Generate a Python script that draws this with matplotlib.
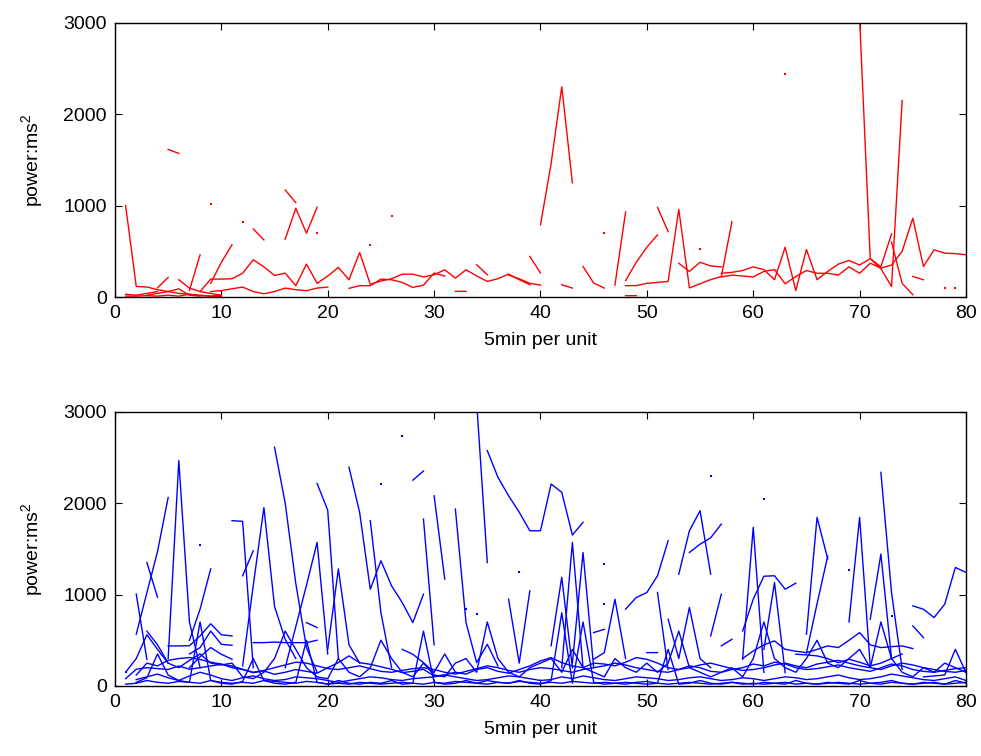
import numpy as np
import matplotlib.pyplot as plt

plt.rcParams['font.family'] = ['Liberation Sans', 'DejaVu Sans']
plt.rcParams['mathtext.default'] = 'regular'

n = np.nan
x = np.arange(1, 81)

# ---- top panel (red), one value per unit, nan = gap ----
red_1 = ([1000, 116, 110, 80, 60, 40, 30, 20, 10, 20] + [n] * 29 + [790]
         + [1460, 2300, 1250] + [n] * 13 + [260, 270, 290, 330]
         + [300, 190, 545, 70, 520, 190, 280, 360, 400, 350]
         + [420, 330, 690] + [n] * 7)
red_2 = ([n] * 7 + [60, 196, 196]
         + [200, 260, 407, 330, 236, 262, 124, 360, 150, 230]
         + [324, 189, 487, 140, 175, 200, 250, 250, 220, 244]
         + [298, 207, 298, 230, 171, 200, 251, 190, 135, n]
         + [n] * 7 + [124, 125, 150]
         + [160, 170, 960, 100, 145, 190, 225, 825, n, n] + [n] * 20)
red_3 = ([n] * 8 + [60, 70]
         + [90, 109, 60, 36, 60, 98, 80, 69, 98, 109]
         + [n, 95, 124, 124, 196, 189, 160, 105, 130, 262]
         + [230, n, n, n, n, n, 240, 200, 150, 130] + [n] * 10
         + [n, n, 370, 280, 380, 340, 330, n, n, n]
         + [n] * 9 + [3050] + [420, 310, 116, 2150] + [n] * 6)
red_4 = ([10, 10, 15, 10, 20, 10, 30, 15, 10, 5]
         + [n, n, 745, 625, n, 633, 971, 698, 982, n] + [n] * 10
         + [n, n, n, 353, 244, n, n, n, n, n]
         + [n, n, n, 334, 153, 98, n, n, n, n]
         + [n] * 6 + [220, 240, 230, 220]
         + [280, 300, 145, 225, 290, 260, 260, 240, 330, 260]
         + [370, 316, 350, 500, 862, 334, 516, 480, 475, 462])
red_5 = ([n, n, 20, 40, 60, 90, 20, 10, n, n]
         + [n] * 5 + [1171, 1033, n, n, n] + [n] * 10
         + [n, 62, 62, n, n, n, n, n, 444, 262]
         + [n, 135, 98, n, n, n, 130, 930, n, n] + [n] * 20
         + [n, n, 600, 150, 25, n, n, n, n, n])
red_6 = ([n, n, n, 100, 215, n, 73, 462, n, n] + [n] * 37 + [180, 380, 545]
         + [680] + [n] * 23 + [225, 189, n, n, n, n])
red_7 = ([n, n, n, n, 1614, 1571, n, n, 150, 380] + [571] + [n] * 36
         + [15, 15, n] + [980, 716] + [n] * 28)
red_8 = [30, 20, 40, 60, n, 189, 98, 60, 40, 20] + [n] * 70
red_dot_x = [9, 12, 19, 24, 26, 46, 55, 63, 78, 79]
red_dot_y = [1018, 825, 698, 571, 887, 698, 527, 2443, 98, 98]

# ---- bottom panel (blue) ----
blue_1 = ([n, 566, 1020, 1470, 2060, n, 500, 840, 1280, n]
          + [1807, 1800, 200, n, 2610, 2000, 1120, 420, 150, n]
          + [n, n, n, 1807, 803, 200, n, 2250, 2350, n]
          + [n, n, n, 3100, 1350, n, 950, 250, 1040, n]
          + [440, 1190, 200, n, 292, 365, 949, 300, n, 365]
          + [365, n, 1223, 1697, 1916, 1223, n, n, 292, 1734]
          + [150, n, n, n, 566, 1843, 1390, n, 700, 1843]
          + [219, n, n, n, 657, 529, n, n, n, n])
blue_2 = ([n, 1004, 290, n, 300, 2464, 700, 200, n, n]
          + [n, 220, 1100, 1950, 870, 510, 300, n, n, 400]
          + [1280, 450, 250, n, n, n, n, n, 1825, 450]
          + [n, 1934, 693, 255, 456, 219, n, n, n, n]
          + [n, 200, 1570, 200, n, n, n, 840, 967, 1022]
          + [1205, 1588, n, 1460, 1550, 1620, 1770, n, 600, 949]
          + [1200, 1205, 1058, 1124, n, n, n, n, n, n]
          + [730, 1442, 300, n, 876, 839, 748, 894, 1296, 1241])
blue_3 = ([n, n, 1350, 970, n, n, 350, 420, 600, 456]
          + [445, n, n, n, n, 200, 650, 1100, 1570, 350]
          + [n, 2391, 1898, 1058, 1369, 1095, 913, 693, 1004, n]
          + [n, n, n, n, 2573, 2281, 2080, 1900, 1697, 1697]
          + [2208, 2117, 1650, 1790, n, n, n, n, n, n]
          + [1022, 180, n, n, n, 547, 1004, n, n, n]
          + [400, 1131, 146, n, 360, 900, 1420, n, n, n]
          + [n, 2336, 1022, 183, n, 100, 110, 120, 401, 146])
blue_4 = ([n, n, n, n, 438, 438, 440, 547, 680, 560]
          + [547, n, 474, 474, 480, 474, 474, 474, 500, n]
          + [n] * 9 + [2080] + [1168] + [n] * 9
          + [n, n, 250, 1460, 200, n, n, n, n, n]
          + [n, 730, 300, 858, 300, 200, n, n, 300, 383]
          + [450, 493, 401, 380, 365, 400, 438, 420, 500, 584]
          + [450, 420, 430, 438, 409, n, n, n, n, n])
blue_5 = ([n] * 6 + [200, 320, 420, 347]
          + [292, n, n, n, n, n, n, 693, 639, n]
          + [n] * 6 + [401, 347, 255, 150] + [n] * 10
          + [n, n, n, n, 584, 620, n, n, n, n]
          + [n] * 6 + [438, 511, n, n]
          + [n, n, n, 347, 340, 329, 300, 255, 292, 260]
          + [220, 250, 300, 350, n, n, n, n, n, n])
blue_6 = ([n, n, 600, 450, 250, n, n, n, n, n]
          + [n, 1205, 1478, n, n, n, n, n, 2214, 1922]
          + [300] + [n] * 8 + [150] + [350, 150] + [n] * 48)
blue_7 = [20, 30, 60, 40, 30, 50, 40, 30, 60, 40, 30, 40, 30, 60, 50, 40,
          30, 50, 40, 20, 30, 20, 40, 30, 20, 30, 40, 30, 20, 40, 30, 50,
          40, 30, 60, 40, 30, 50, 40, 30, 40, 30, 50, 40, 30, 40, 30, 20,
          40, 50, 30, 20, 30, 40, 30, 20, 30, 40, 20, 30, 20, 30, 40, 20,
          30, 20, 30, 40, 30, 20, 30, 20, 40, 30, 20, 30, 40, 20, 30, 40]
blue_8 = [80, 183, 200, 190, 180, 219, 183, 200, 219, 237, 219, 183, 146,
          164, 128, 150, 180, 160, 140, 200, 255, 329, 255, 237, 210, 183,
          146, 160, 183, 110, 120, 150, 130, 180, 200, 160, 140, 180, 220,
          274, 310, 255, 219, 200, 250, 240, 220, 260, 310, 292, 250, 200,
          180, 220, 200, 160, 150, 180, 200, 240, 220, 260, 240, 200, 180,
          190, 210, 230, 200, 180, 160, 200, 240, 220, 180, 160, 150, 170,
          190, 200]
blue_9 = [n, 70, 100, 130, 90, 60, 110, 150, 120, 80, 60, 90, 110, 80, 60,
          70, 100, 90, 80, 60, 40, 60, 80, 100, 90, 70, 60, 80, 90, 100, 120,
          100, 80, 60, 70, 90, 110, 100, 80, 60, 70, 100, 80, 110, 90, 70, 60,
          80, 100, 90, 80, 60, 70, 90, 100, 80, 60, 70, 90, 80, 60, 80, 100,
          90, 70, 80, 100, 120, 90, 70, 80, 100, 130, 110, 90, 70, 60, 80,
          100, 60]
blue_10 = [n, 120, 250, 220, 280, 300, 311, 290, 260, 240, 200, 180, 150,
           170, 200, 230, 260, 250, 220, 190, 180, 200, 220, 190, 160, 150,
           170, 190, 200, 180, 150, 130, 160, 190, 220, 200, 170, 150, 180,
           200, 190, 170, 150, 180, 200, 220, 250, 230, 200, 180, 160, 150,
           180, 200, 230, 250, 220, 190, 170, 180, 200, 230, 250, 220, 200,
           240, 260, 280, 250, 220, 200, 180, 220, 250, 230, 200, 180, 160,
           150, 170]
blue_11 = [150, 300, 560, 400, 250, 200, 280, 350, 250, 230,
           250, 100, 80, 150, 300, 600, 400, 200, 100, 80,
           300, 150, 100, 200, 500, 300, 150, 100, 250, 120,
           100, 250, 300, 150, 700, 300, 150, 100, 200, 250,
           300, 150, 400, 200, 150, 100, 300, 200, 150, 250,
           150, 250, 600, 200, 150, 100, 150, 200, 100, 300,
           700, 300, 200, 150, 300, 500, 250, 200, 300, 400,
           200, 700, 300, 150, 100, 200, 150, 250, 200, 150]
blue_12 = [n, 40, 90, 350, 120, 60, 40, 700, 60, 30,
           20, 50, 300, 60, 30, 20, 40, 500, 40, 20,
           60, 30, 20, 40, 30, 60, 20, 30, 600, 40,
           20, 30, 60, 30, 20, 40, 30, 60, 30, 20,
           60, 800, 30, 700, 40, 20, 30, 40, 30, 20,
           30, 400, 20, 30, 60, 30, 20, 40, 30, 20,
           40, 30, 20, 60, 30, 20, 40, 30, 20, 60,
           30, 40, 60, 30, 20, 40, 30, 20, 60, 30]
blue_dot_x = [1, 8, 25, 27, 33, 34, 38, 46, 46, 56, 61, 69, 73]
blue_dot_y = [150, 1540, 2208, 2737, 840, 785, 1241, 1332, 894, 2292, 2039,
              1266, 760]

red_series = [red_1, red_2, red_3, red_4, red_5, red_6, red_7, red_8]
blue_series = [blue_1, blue_2, blue_3, blue_4, blue_5, blue_6,
               blue_7, blue_8, blue_9, blue_10, blue_11, blue_12]

fig = plt.figure(figsize=(9.81, 7.56), dpi=100)
ax_top = fig.add_axes([0.1172, 0.6071, 0.8675, 0.3628])
ax_bot = fig.add_axes([0.1172, 0.0926, 0.8675, 0.3630])

for s in red_series:
    ax_top.plot(x, s, color='red', lw=1.0)
ax_top.plot(red_dot_x, red_dot_y, 's', color='red', ms=1.6, mew=0)

for s in blue_series:
    ax_bot.plot(x, s, color='blue', lw=1.0)
ax_bot.plot(blue_dot_x, blue_dot_y, 's', color='blue', ms=1.6, mew=0)


def style(ax):
    ax.set_xlim(0, 80)
    ax.set_ylim(0, 3000)
    ax.set_xticks(range(0, 81, 10))
    ax.set_yticks([0, 1000, 2000, 3000])
    ax.tick_params(direction='in', top=True, right=True, length=5,
                   width=0.8, labelsize=14, pad=6)
    ax.set_xlabel('5min per unit', fontsize=14, labelpad=7)
    ax.set_ylabel('power:ms$^2$', fontsize=14, labelpad=13)
    for sp in ax.spines.values():
        sp.set_linewidth(1.0)


style(ax_top)
style(ax_bot)

fig.savefig('out.png', dpi=100)
